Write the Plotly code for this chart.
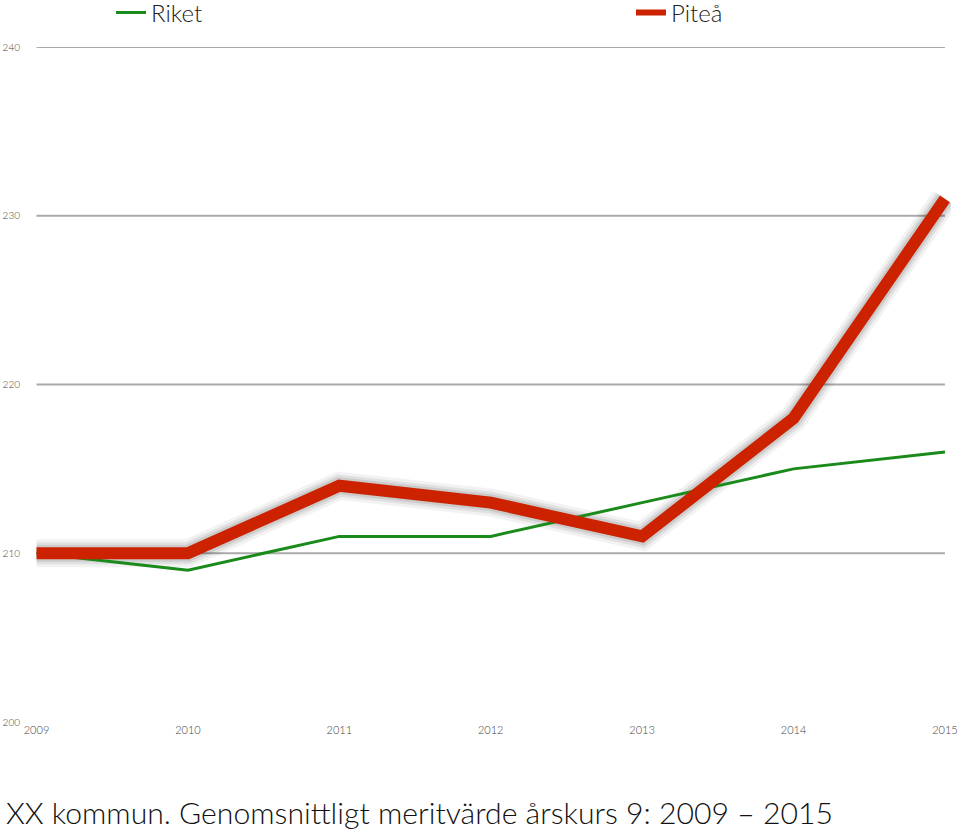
import plotly.graph_objects as go

years = [2009, 2010, 2011, 2012, 2013, 2014, 2015]
riket = [210, 209, 211, 211, 213, 215, 216]
pitea = [210, 210, 214, 213, 211, 218, 231]
grid_vals = [210, 220, 230, 240]
y_ticks = [200, 210, 220, 230, 240]
title_text = "XX kommun. Genomsnittligt meritvärde årskurs 9: 2009 – 2015"

FONT = "Lato Light, Lato"
W, H = 960, 834
ML, MR, MT, MB = 35, 9, 47, 112
PW, PH = W - ML - MR, H - MT - MB
GREEN, RED = "#1a8a1a", "#cc2200"

fig = go.Figure()

# soft shadow under Piteå line
for w, a in [(28, 0.05), (22, 0.07), (17, 0.09)]:
    fig.add_trace(go.Scatter(x=years, y=pitea, mode="lines", showlegend=False,
                             hoverinfo="skip",
                             line=dict(color=f"rgba(0,0,0,{a})", width=w)))

fig.add_trace(go.Scatter(x=years, y=riket, mode="lines", name="Riket",
                         legendgroup="r", showlegend=False,
                         line=dict(color=GREEN, width=3)))
fig.add_trace(go.Scatter(x=years, y=pitea, mode="lines", name="Piteå",
                         legendgroup="p", showlegend=False,
                         line=dict(color=RED, width=12)))
# legend entries
fig.add_trace(go.Scatter(x=[None], y=[None], mode="lines", name="Riket",
                         legendgroup="r", legend="legend",
                         line=dict(color=GREEN, width=3)))
fig.add_trace(go.Scatter(x=[None], y=[None], mode="lines", name="Piteå",
                         legendgroup="p", legend="legend2",
                         line=dict(color=RED, width=6)))

for g in grid_vals:
    fig.add_shape(type="line", xref="x", yref="y", x0=years[0], x1=years[-1],
                  y0=g, y1=g, line=dict(color="#aaaaaa", width=2), layer="below")

fig.add_annotation(text=title_text, xref="paper", yref="paper",
                   x=(4 - ML) / PW, y=(H - MB - 812) / PH,
                   xanchor="left", yanchor="middle",
                   showarrow=False, font=dict(family=FONT, size=30.2, color="#111111"))

leg_common = dict(orientation="h", xref="container", yref="container",
                  yanchor="middle", xanchor="left",
                  font=dict(family=FONT, size=24, color="#222222"),
                  bgcolor="rgba(0,0,0,0)", itemwidth=30)

fig.update_layout(
    width=W, height=H,
    paper_bgcolor="white", plot_bgcolor="white",
    margin=dict(l=ML, r=MR, t=MT, b=MB, autoexpand=False),
    font=dict(family=FONT, color="#444444"),
    showlegend=True,
    legend=dict(x=111 / W, y=1 - 13 / H, **leg_common),
    legend2=dict(x=631 / W, y=1 - 13 / H, **leg_common),
    xaxis=dict(range=[2008.99, 2015.04], tickvals=years, showgrid=False,
               zeroline=False, showline=False, ticks="",
               tickfont=dict(size=11, color="#444444"), ticklabelstandoff=0),
    yaxis=dict(range=[200, 240], tickvals=y_ticks, showgrid=False,
               zeroline=False, showline=False, ticks="",
               tickfont=dict(size=10, color="#444444"), ticklabelstandoff=14),
)

fig.write_html("out.html")
